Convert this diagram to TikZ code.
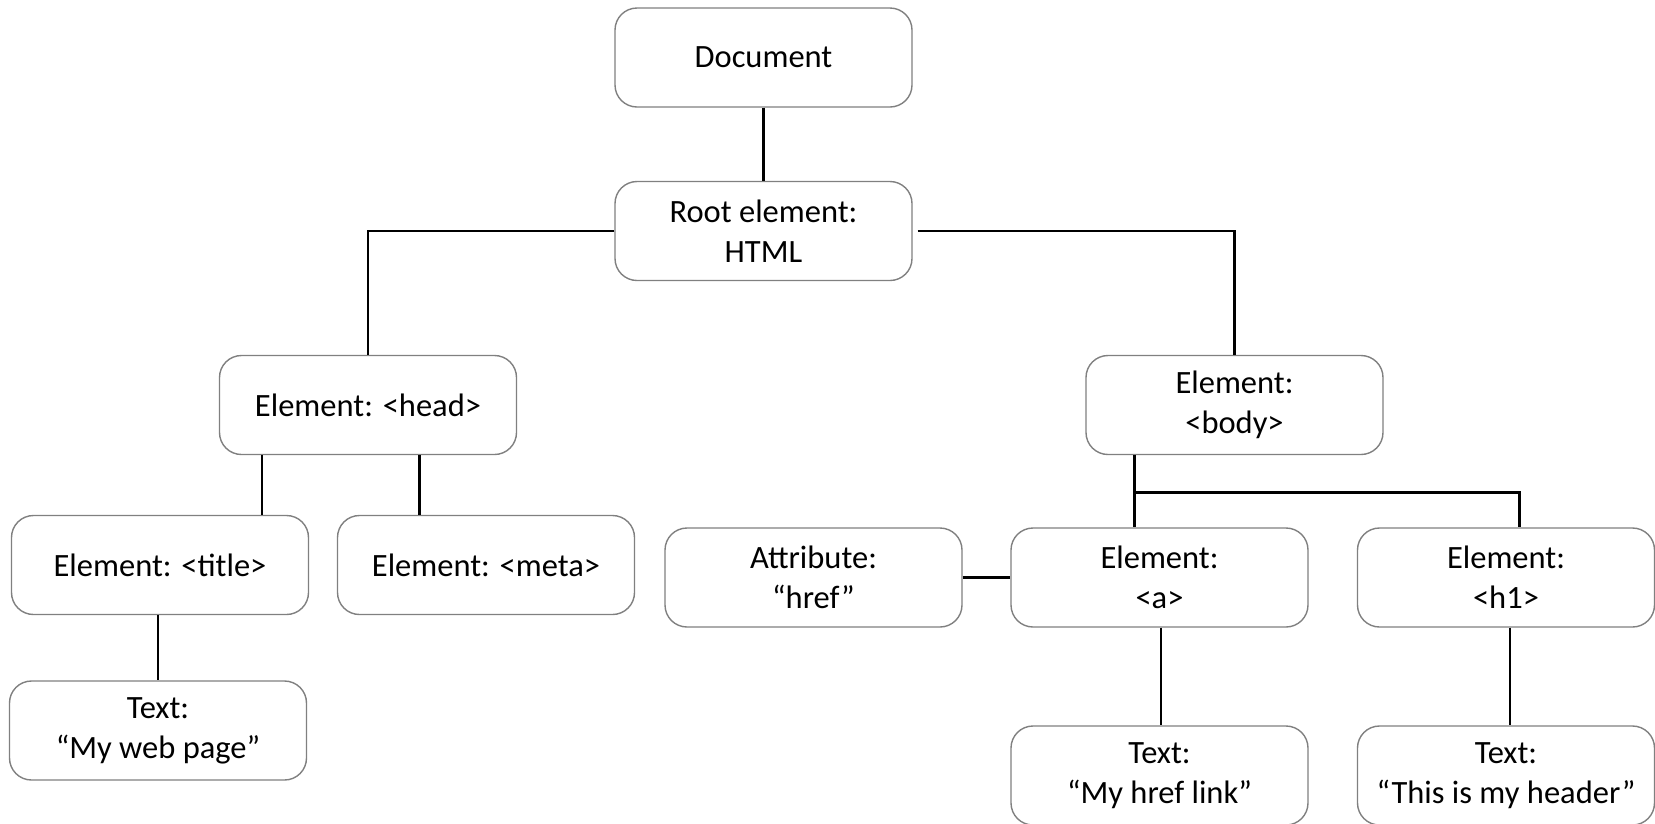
\documentclass[tikz,border=0pt]{standalone}
\usepackage{fontspec}
\setmainfont{Carlito}
\usetikzlibrary{calc}
\begin{document}
\begin{tikzpicture}[x=1pt,y=-1pt,
  treebox/.style={draw=black!50, line width=1.4pt, rounded corners=22pt,
    minimum width=297pt, minimum height=99pt, inner sep=0pt,
    align=center, font=\fontsize{32.5}{40}\selectfont},
  link/.style={draw=black, line width=2.8pt}]
\useasboundingbox (0,0) rectangle (1655,823);

% tree nodes (centres in page coordinates)
\node[treebox] (doc)   at (763.5, 57.5)  {Document};
\node[treebox] (root)  at (763.5, 231)   {Root element:\\HTML};
\node[treebox] (head)  at (368, 405)     {Element: <head>};
\node[treebox] (body)  at (1234.5, 405)  {Element:\\<body>};
\node[treebox] (title) at (160, 565)     {Element: <title>};
\node[treebox] (meta)  at (486, 565)     {Element: <meta>};
\node[treebox] (attr)  at (813.5, 577.5) {Attribute:\\“href”};
\node[treebox] (a)     at (1159.5, 577.5){Element:\\<a>};
\node[treebox] (h1)    at (1506, 577.5)  {Element:\\<h1>};
\node[treebox] (tweb)  at (158, 730.5)   {Text:\\“My web page”};
\node[treebox] (thref) at (1159.5, 775.5){Text:\\“My href link”};
\node[treebox] (thead) at (1506, 775.5)  {Text:\\“This is my header”};

% connectors
\draw[link] (doc.south) -- (root.north);
\draw[link] (root.west) -| (head.north);
\draw[link] ([xshift=5pt]root.east) -| (body.north);

\coordinate (hl) at ($(head.south west)!0.145!(head.south east)$);
\coordinate (hr) at ($(head.south west)!0.672!(head.south east)$);
\draw[link] (hl) -- (hl |- title.north);
\draw[link] (hr) -- (hr |- meta.north);
\draw[link] (tweb.north |- title.south) -- (tweb.north);

\coordinate (bs) at ($(body.south west)!0.166!(body.south east)$);
\coordinate (bj) at ($(bs)+(0,37)$);
\coordinate (hx) at ($(h1.north west)!0.545!(h1.north east)$);
\draw[link] (bs) -- (bs |- a.north);
\draw[link] (bj) -| (hx);
\draw[link] (attr.east) -- (a.west);
\draw[link] ($(a.south)+(1.5,0)$) -- ($(thref.north)+(1.5,0)$);
\draw[link] ($(h1.south)+(4,0)$) -- ($(thead.north)+(4,0)$);
\end{tikzpicture}
\end{document}
